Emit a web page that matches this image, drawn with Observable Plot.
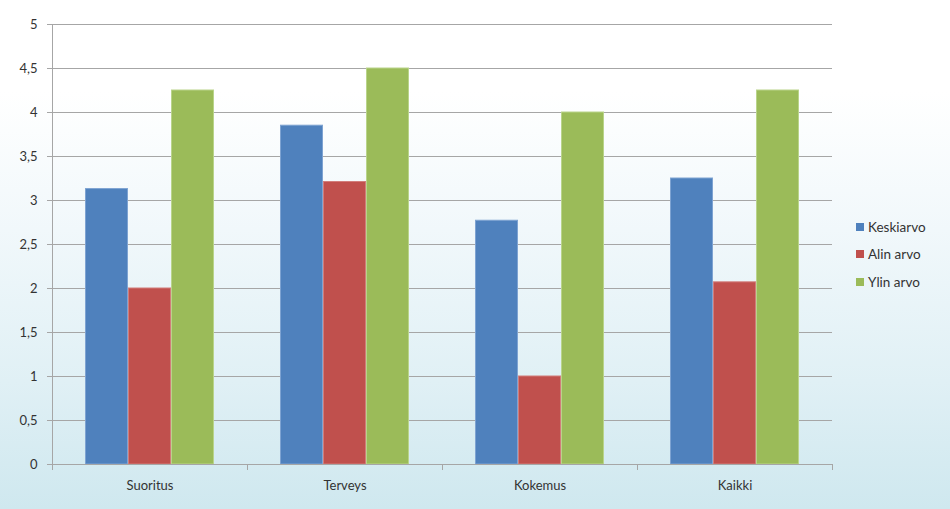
<!DOCTYPE html>
<html>
<head>
<meta charset="utf-8">
<script src="https://cdn.jsdelivr.net/npm/d3@7"></script>
<script src="https://cdn.jsdelivr.net/npm/@observablehq/plot@0.6"></script>
<style>
  html, body { margin: 0; padding: 0; }
  body {
    width: 950px; height: 509px; overflow: hidden; position: relative;
    background: linear-gradient(to bottom, #ffffff 0%, #ffffff 18%, #f1f8fb 45%, #e0f0f5 75%, #cfe8ef 100%);
    font-family: Lato, "Open Sans", sans-serif;
  }
  #chart { position: absolute; left: 0; top: 0; }
  #legend { position: absolute; left: 856px; top: 213px; font-size: 13.5px; color: #333; }
  #legend .row { height: 27.5px; display: flex; align-items: center; line-height: 16px; }
  #legend .sw { width: 8px; height: 8px; margin-right: 4px; }
</style>
</head>
<body>
<div id="chart"></div>
<div id="legend"></div>
<script>
const categories = ["Suoritus", "Terveys", "Kokemus", "Kaikki"];
const series = ["Keskiarvo", "Alin arvo", "Ylin arvo"];
const keskiarvo = [3.13, 3.85, 2.77, 3.25];
const alinArvo = [2.0, 3.21, 1.0, 2.07];
const ylinArvo = [4.25, 4.5, 4.0, 4.25];
const yTicks = [0, 0.5, 1, 1.5, 2, 2.5, 3, 3.5, 4, 4.5, 5];
const colors = ["#4f81bd", "#c0504d", "#9bbb59"];
const borders = ["#7ea3d2", "#d27d7b", "#b9d48a"];

const valuesBySeries = [keskiarvo, alinArvo, ylinArvo];
const rows = [];
categories.forEach((c, i) => {
  series.forEach((s, j) => rows.push({category: c, series: s, value: valuesBySeries[j][i]}));
});

const fmt = d => String(d).replace(".", ",");
const gray = "#a6a6a6";

const plot = Plot.plot({
  width: 950,
  height: 509,
  marginLeft: 52,
  marginRight: 118,
  marginTop: 24,
  marginBottom: 45,
  style: {background: "transparent", fontFamily: "Lato, 'Open Sans', sans-serif", fontSize: "13px", color: "#333"},
  fx: {domain: categories, paddingInner: 0, paddingOuter: 0, label: null},
  x: {domain: series, paddingInner: 0, paddingOuter: 0.767, axis: null},
  y: {domain: [0, 5], label: null, axis: null},
  color: {domain: series, range: colors},
  marks: [
    Plot.ruleY(yTicks, {stroke: gray, strokeWidth: 1}),
    Plot.barY(rows, {
      fx: "category", x: "series", y: "value", fill: "series",
      stroke: d => borders[series.indexOf(d.series)], strokeWidth: 1, insetLeft: 0.5, insetRight: 0.5
    }),
    Plot.axisY({ticks: yTicks, tickFormat: fmt, tickSize: 5, tickPadding: 10, stroke: gray, label: null, fill: "#333"}),
    Plot.frame({anchor: "left", facetAnchor: "left", stroke: gray}),
    Plot.ruleY([0], {stroke: gray}),
    Plot.frame({anchor: "left", stroke: gray, insetTop: 440, insetBottom: -5}),
    Plot.frame({anchor: "right", facetAnchor: "right", stroke: gray, insetTop: 440, insetBottom: -5}),
    Plot.axisFx({tickSize: 0, tickPadding: 16, label: null, anchor: "bottom", fill: "#333"})
  ]
});
document.getElementById("chart").appendChild(plot);

const legend = document.getElementById("legend");
series.forEach((s, i) => {
  const row = document.createElement("div");
  row.className = "row";
  const sw = document.createElement("div");
  sw.className = "sw";
  sw.style.background = colors[i];
  const t = document.createElement("span");
  t.textContent = s;
  row.appendChild(sw);
  row.appendChild(t);
  legend.appendChild(row);
});
</script>
</body>
</html>
